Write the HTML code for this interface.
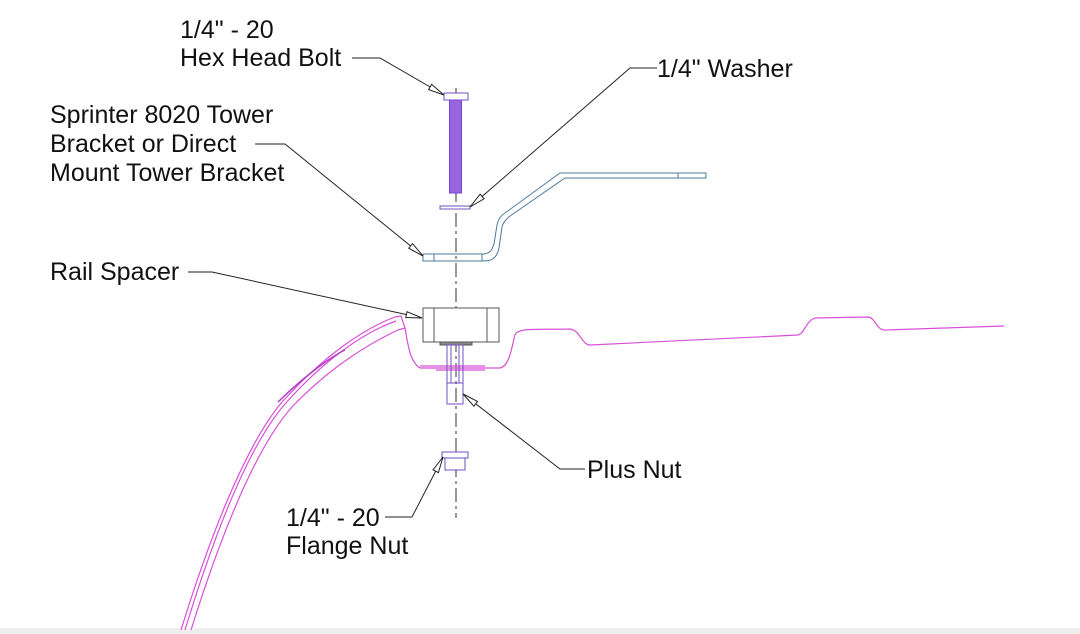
<!DOCTYPE html>
<html><head><style>
html,body{margin:0;padding:0;background:#fff;}
svg{display:block}
text{font-family:"Liberation Sans",Arial,sans-serif;font-size:25px;fill:#111;}
</style></head><body>
<svg width="1080" height="634" viewBox="0 0 1080 634">
<rect x="0" y="628" width="1080" height="6" fill="#eeeeee"/>
<!-- centerline -->
<line x1="456" y1="88" x2="456" y2="518" stroke="#333" stroke-width="1" stroke-dasharray="14,4,3,4"/>
<!-- roof pink -->
<g fill="none" stroke="#d84fd8" stroke-width="1.2">
<path d="M181,630 C215,520 250,440 282,402 C320,360 360,330 395,317"/>
<path d="M185,630 C218,522 252,442 285,404 C322,362 362,333 396,321"/>
<path d="M191,630 C224,525 258,445 292,407 C330,367 370,343 398,330"/>
<path d="M395,317 L401,316 L405,328 C408,345 410,362 420,368 L500,368 C510,366 512,345 515,335 C518,327 540,330 570,329 C580,330 582,345 590,345 L798,335 C805,333 805,322 815,318 L868,317 C876,318 876,330 885,330 L1004,326"/>
<path d="M398,330 L405,328"/>
<line x1="420" y1="366" x2="485" y2="366"/>
<line x1="436" y1="370" x2="485" y2="370"/>
</g>
<path d="M278,402 C300,380 330,357 345,350" stroke="#b040c0" stroke-width="1.5" fill="none"/>
<!-- bolt -->
<rect x="444" y="93" width="24" height="7" fill="#fff" stroke="#7050c0" stroke-width="1"/>
<rect x="449.5" y="100" width="12" height="93" fill="#9a66e0" stroke="#7a40d0" stroke-width="1"/>
<!-- washer -->
<rect x="440" y="206" width="30" height="3" fill="#fff" stroke="#7050c0" stroke-width="1"/>
<!-- bracket -->
<g fill="none" stroke="#4a7a9a" stroke-width="1">
<path d="M423,254 L482,254 C490,254 492,250 494,244 L497,225 C498,220 500,216 505,213 L560,173 L706,173 L706,178 L565,178 L510,216 C505,220 503,223 502,227 L499,248 C497,257 493,261 484,261 L423,261 Z"/>
<line x1="434" y1="254" x2="434" y2="261"/><line x1="482" y1="254" x2="482" y2="261"/>
<line x1="678" y1="173" x2="678" y2="178"/>
</g>
<!-- rail spacer -->
<g fill="#fff" stroke="#555" stroke-width="1">
<rect x="423" y="308" width="76" height="34"/>
<line x1="434" y1="308" x2="434" y2="342"/><line x1="487" y1="308" x2="487" y2="342"/>
<rect x="440" y="342" width="32" height="3" fill="#888"/>
</g>
<!-- plus nut -->
<g fill="none" stroke="#7050c0" stroke-width="1">
<rect x="447" y="345" width="16" height="59"/>
<line x1="447" y1="383" x2="463" y2="383"/>
<line x1="451" y1="345" x2="451" y2="383"/><line x1="459" y1="345" x2="459" y2="383"/>
</g>
<!-- flange nut -->
<g fill="#fff" stroke="#7050c0" stroke-width="1">
<rect x="442" y="452" width="26" height="6"/>
<rect x="445" y="458" width="20" height="12"/>
</g>
<!-- leaders -->
<g stroke="#222" stroke-width="1" fill="none">
<polyline points="352,58 380,58 444,95"/>
<polyline points="657,68 630,68 470,207"/>
<polyline points="255,144 285,144 423,256"/>
<polyline points="188,272 212,272 422,318"/>
<polyline points="585,469 560,469 463,394"/>
<polyline points="385,517 412,517 443,457"/>
</g>
<g fill="#fff" stroke="#222" stroke-width="1">
<polygon points="444,95 428.6,89.6 431.6,84.4"/>
<polygon points="470,207 484.1,198.8 480.1,194.2"/>
<polygon points="423,256 408.7,248.2 412.5,243.6"/>
<polygon points="422,318 405.8,317.5 407,311.7"/>
<polygon points="463,394 477.5,401.4 473.9,406.2"/>
<polygon points="443,457 438.4,472.6 433,469.8"/>
</g>
<text x="180" y="38">1/4" - 20</text>
<text x="180" y="66">Hex Head Bolt</text>
<text x="657" y="77">1/4" Washer</text>
<text x="50" y="123">Sprinter 8020 Tower</text>
<text x="50" y="152">Bracket or Direct</text>
<text x="50" y="181">Mount Tower Bracket</text>
<text x="50" y="280">Rail Spacer</text>
<text x="587" y="478">Plus Nut</text>
<text x="286" y="526">1/4" - 20</text>
<text x="286" y="554">Flange Nut</text>
</svg>
</body></html>
